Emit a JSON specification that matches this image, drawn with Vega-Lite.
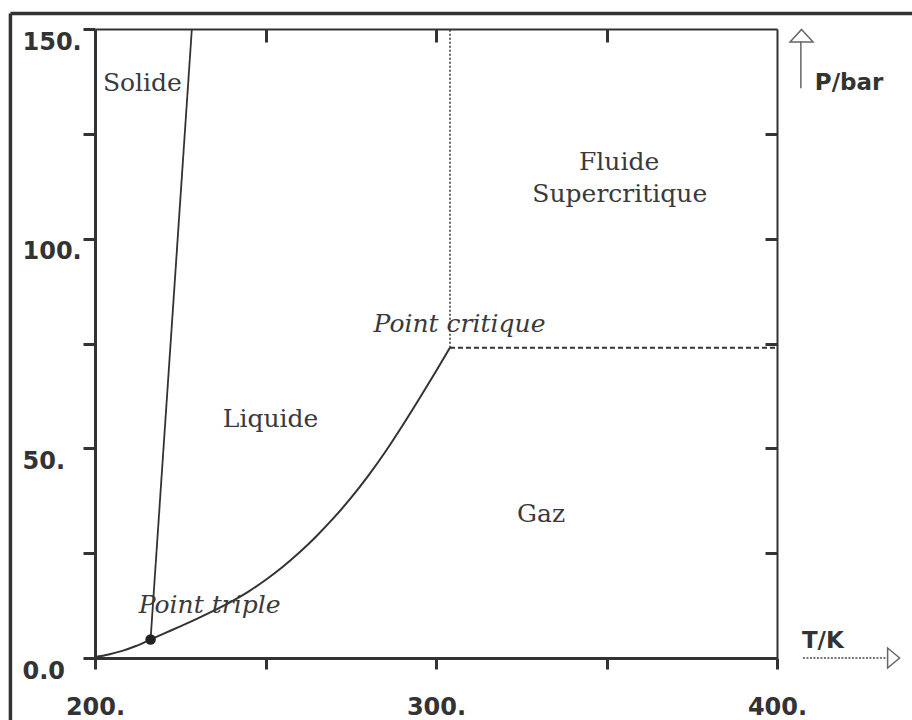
{
  "$schema": "https://vega.github.io/schema/vega-lite/v6.json",
  "width": 682,
  "height": 629,
  "autosize": "none",
  "padding": {"left": 95, "top": 29, "right": 135, "bottom": 62},
  "background": "white",
  "config": {"view": {"stroke": null}},
  "datasets": {
    "vapor": [
      {"T": 200, "P": 0.25}, {"T": 204, "P": 0.85}, {"T": 208, "P": 1.7}, {"T": 212, "P": 2.85},
      {"T": 216.3, "P": 4.4}, {"T": 220, "P": 5.75}, {"T": 225, "P": 7.55}, {"T": 230, "P": 9.4},
      {"T": 235, "P": 11.35}, {"T": 240, "P": 13.45}, {"T": 245, "P": 15.85}, {"T": 250, "P": 18.6},
      {"T": 255, "P": 21.7}, {"T": 260, "P": 25.2}, {"T": 265, "P": 29.1}, {"T": 270, "P": 33.4},
      {"T": 275, "P": 38.1}, {"T": 280, "P": 43.3}, {"T": 285, "P": 49.0}, {"T": 290, "P": 55.2},
      {"T": 295, "P": 61.7}, {"T": 300, "P": 68.4}, {"T": 304.1, "P": 74.0}
    ],
    "fusion": [
      {"T": 216.3, "P": 4.4}, {"T": 228.4, "P": 150}
    ],
    "triple": [{"T": 216.3, "P": 4.4}],
    "dotline": [{"T": 304.1, "P": 74.0, "T2": 304.1, "P2": 150}],
    "dashline": [{"T": 304.1, "P": 74.0, "T2": 400, "P2": 74.0}],
    "regions": [
      {"T": 213.9, "P": 135.2, "label": "Solide"},
      {"T": 251.5, "P": 55.1, "label": "Liquide"},
      {"T": 330.8, "P": 32.4, "label": "Gaz"},
      {"T": 353.7, "P": 116.4, "label": "Fluide"},
      {"T": 353.9, "P": 108.8, "label": "Supercritique"}
    ],
    "points": [
      {"T": 306.9, "P": 77.7, "label": "Point critique"},
      {"T": 233.6, "P": 10.7, "label": "Point triple"}
    ],
    "units": [
      {"T": 411.1, "P": 135.4, "label": "P/bar"},
      {"T": 407.3, "P": 2.4, "label": "T/K"}
    ],
    "uparrow": [{"T": 407.0, "P": 135.9, "T2": 407.0, "P2": 147.0}],
    "rightarrow": [{"T": 407.6, "P": 0, "T2": 432.3, "P2": 0}],
    "uphead": [{"T": 407.2, "P": 148.4}],
    "righthead": [{"T": 434.2, "P": 0}],
    "frame": [
      {"T": 175.2, "P": 153.7, "T2": 175.2, "P2": -20},
      {"T": 175.2, "P": 153.7, "T2": 445, "P2": 153.7}
    ]
  },
  "layer": [
    {
      "data": {"name": "vapor"},
      "mark": {"type": "line", "color": "#333333", "strokeWidth": 2, "interpolate": "monotone"},
      "encoding": {
        "x": {"field": "T", "type": "quantitative", "scale": {"domain": [200, 400], "nice": false, "zero": false},
          "axis": {"orient": "bottom", "values": [200, 250, 300, 350, 400], "title": null, "grid": false,
            "labelExpr": "datum.value % 100 == 0 ? datum.value + '.' : ''",
            "tickSize": 11, "tickWidth": 3, "tickColor": "#333333", "domainWidth": 3, "domainColor": "#333333",
            "labelFont": "DejaVu Sans", "labelFontWeight": "bold", "labelFontSize": 24, "labelColor": "#333333",
            "labelAlign": "center", "labelBaseline": "top", "labelPadding": 26,
            "labelOverlap": false, "labelFlush": false, "labelBound": false}},
        "y": {"field": "P", "type": "quantitative", "scale": {"domain": [0, 150], "nice": false, "zero": false},
          "axis": {"orient": "left", "values": [0, 25, 50, 75, 100, 125, 150], "title": null, "grid": false,
            "labelExpr": "datum.value == 0 ? '0.0' : (datum.value % 50 == 0 ? datum.value + '.' : '')",
            "tickSize": 12, "tickWidth": 3, "tickColor": "#333333", "domainWidth": 3, "domainColor": "#333333",
            "labelFont": "DejaVu Sans", "labelFontWeight": "bold", "labelFontSize": 24, "labelColor": "#333333",
            "labelAlign": "left", "labelBaseline": "top", "labelPadding": 61, "labelOffset": 1,
            "labelOverlap": false, "labelFlush": false, "labelBound": false}}
      }
    },
    {
      "data": {"name": "fusion"},
      "mark": {"type": "line", "color": "#333333", "strokeWidth": 1.8},
      "encoding": {
        "x": {"field": "T", "type": "quantitative", "scale": {"domain": [200, 400], "nice": false, "zero": false},
          "axis": {"orient": "top", "values": [250, 300, 350], "title": null, "grid": false, "labels": false,
            "tickSize": -13, "tickWidth": 3, "tickColor": "#333333", "domainWidth": 2, "domainColor": "#333333"}},
        "y": {"field": "P", "type": "quantitative", "scale": {"domain": [0, 150], "nice": false, "zero": false},
          "axis": {"orient": "right", "values": [25, 50, 75, 100, 125], "title": null, "grid": false, "labels": false,
            "tickSize": -12, "tickWidth": 3, "tickColor": "#333333", "domainWidth": 2, "domainColor": "#333333"}}
      }
    },
    {
      "data": {"name": "dotline"},
      "mark": {"type": "rule", "color": "#333333", "strokeWidth": 1.5, "strokeDash": [2, 2]},
      "encoding": {
        "x": {"field": "T", "type": "quantitative", "scale": {"domain": [200, 400], "nice": false, "zero": false}, "axis": null},
        "x2": {"field": "T2"},
        "y": {"field": "P", "type": "quantitative", "scale": {"domain": [0, 150], "nice": false, "zero": false}, "axis": null},
        "y2": {"field": "P2"}
      }
    },
    {
      "data": {"name": "dashline"},
      "mark": {"type": "rule", "color": "#333333", "strokeWidth": 2, "strokeDash": [5, 3]},
      "encoding": {
        "x": {"field": "T", "type": "quantitative", "scale": {"domain": [200, 400], "nice": false, "zero": false}, "axis": null},
        "x2": {"field": "T2"},
        "y": {"field": "P", "type": "quantitative", "scale": {"domain": [0, 150], "nice": false, "zero": false}, "axis": null},
        "y2": {"field": "P2"}
      }
    },
    {
      "data": {"name": "triple"},
      "mark": {"type": "point", "filled": true, "color": "#222222", "size": 110, "opacity": 1},
      "encoding": {
        "x": {"field": "T", "type": "quantitative", "scale": {"domain": [200, 400], "nice": false, "zero": false}, "axis": null},
        "y": {"field": "P", "type": "quantitative", "scale": {"domain": [0, 150], "nice": false, "zero": false}, "axis": null}
      }
    },
    {
      "data": {"name": "regions"},
      "mark": {"type": "text", "font": "DejaVu Serif", "fontSize": 25, "color": "#3a3a3a", "align": "center", "baseline": "alphabetic"},
      "encoding": {
        "x": {"field": "T", "type": "quantitative", "scale": {"domain": [200, 400], "nice": false, "zero": false}, "axis": null},
        "y": {"field": "P", "type": "quantitative", "scale": {"domain": [0, 150], "nice": false, "zero": false}, "axis": null},
        "text": {"field": "label"}
      }
    },
    {
      "data": {"name": "points"},
      "mark": {"type": "text", "font": "DejaVu Serif", "fontStyle": "italic", "fontSize": 25, "color": "#3a3a3a", "align": "center", "baseline": "alphabetic"},
      "encoding": {
        "x": {"field": "T", "type": "quantitative", "scale": {"domain": [200, 400], "nice": false, "zero": false}, "axis": null},
        "y": {"field": "P", "type": "quantitative", "scale": {"domain": [0, 150], "nice": false, "zero": false}, "axis": null},
        "text": {"field": "label"}
      }
    },
    {
      "data": {"name": "units"},
      "mark": {"type": "text", "font": "DejaVu Sans", "fontWeight": "bold", "fontSize": 23, "color": "#333333", "align": "left", "baseline": "alphabetic"},
      "encoding": {
        "x": {"field": "T", "type": "quantitative", "scale": {"domain": [200, 400], "nice": false, "zero": false}, "axis": null},
        "y": {"field": "P", "type": "quantitative", "scale": {"domain": [0, 150], "nice": false, "zero": false}, "axis": null},
        "text": {"field": "label"}
      }
    },
    {
      "data": {"name": "uparrow"},
      "mark": {"type": "rule", "color": "#666666", "strokeWidth": 1.5},
      "encoding": {
        "x": {"field": "T", "type": "quantitative", "scale": {"domain": [200, 400], "nice": false, "zero": false}, "axis": null},
        "x2": {"field": "T2"},
        "y": {"field": "P", "type": "quantitative", "scale": {"domain": [0, 150], "nice": false, "zero": false}, "axis": null},
        "y2": {"field": "P2"}
      }
    },
    {
      "data": {"name": "rightarrow"},
      "mark": {"type": "rule", "color": "#777777", "strokeWidth": 1.8, "strokeDash": [2, 1.5]},
      "encoding": {
        "x": {"field": "T", "type": "quantitative", "scale": {"domain": [200, 400], "nice": false, "zero": false}, "axis": null},
        "x2": {"field": "T2"},
        "y": {"field": "P", "type": "quantitative", "scale": {"domain": [0, 150], "nice": false, "zero": false}, "axis": null},
        "y2": {"field": "P2"}
      }
    },
    {
      "data": {"name": "uphead"},
      "mark": {"type": "point", "shape": "M0,-0.55L1,0.55L-1,0.55Z", "filled": false, "color": "#666666", "strokeWidth": 1.5, "size": 529, "opacity": 1},
      "encoding": {
        "x": {"field": "T", "type": "quantitative", "scale": {"domain": [200, 400], "nice": false, "zero": false}, "axis": null},
        "y": {"field": "P", "type": "quantitative", "scale": {"domain": [0, 150], "nice": false, "zero": false}, "axis": null}
      }
    },
    {
      "data": {"name": "righthead"},
      "mark": {"type": "point", "shape": "M0.6,0L-0.6,-1L-0.6,1Z", "filled": false, "color": "#666666", "strokeWidth": 1.5, "size": 400, "opacity": 1},
      "encoding": {
        "x": {"field": "T", "type": "quantitative", "scale": {"domain": [200, 400], "nice": false, "zero": false}, "axis": null},
        "y": {"field": "P", "type": "quantitative", "scale": {"domain": [0, 150], "nice": false, "zero": false}, "axis": null}
      }
    },
    {
      "data": {"name": "frame"},
      "mark": {"type": "rule", "color": "#333333", "strokeWidth": 3.5},
      "encoding": {
        "x": {"field": "T", "type": "quantitative", "scale": {"domain": [200, 400], "nice": false, "zero": false}, "axis": null},
        "x2": {"field": "T2"},
        "y": {"field": "P", "type": "quantitative", "scale": {"domain": [0, 150], "nice": false, "zero": false}, "axis": null},
        "y2": {"field": "P2"}
      }
    }
  ],
  "resolve": {"axis": {"x": "independent", "y": "independent"}}
}
